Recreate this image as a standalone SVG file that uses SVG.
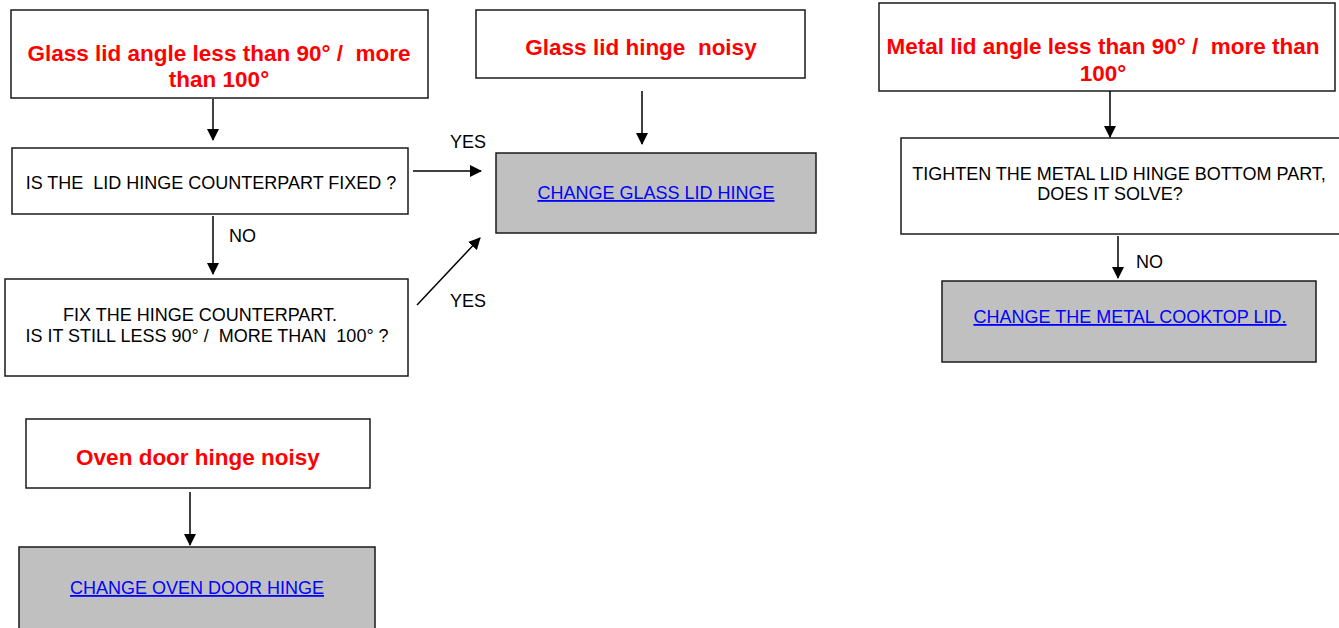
<svg xmlns="http://www.w3.org/2000/svg" width="1339" height="628" viewBox="0 0 1339 628" xml:space="preserve">
<style>
text{white-space:pre}
.box{fill:#fff;stroke:#1a1a1a;stroke-width:1.5}
.act{fill:#c0c0c0;stroke:#1a1a1a;stroke-width:1.5}
.h{font-family:"Liberation Sans",Arial,sans-serif;font-weight:bold;font-size:22.5px;fill:#ff0000;text-anchor:middle}
.t{font-family:"Liberation Sans",Arial,sans-serif;font-size:18px;fill:#000;text-anchor:middle}
.l{font-family:"Liberation Sans",Arial,sans-serif;font-size:18px;fill:#0000ff;text-anchor:middle;text-decoration:underline}
.lab{font-family:"Liberation Sans",Arial,sans-serif;font-size:18px;fill:#000}
.c{stroke:#000;stroke-width:1.5;fill:none;marker-end:url(#ah)}
</style>
<defs>
<marker id="ah" markerWidth="12" markerHeight="12" refX="11" refY="6" orient="auto" markerUnits="userSpaceOnUse">
<path d="M0,0 L12,6 L0,12 z" fill="#000"/>
</marker>
</defs>
<rect width="1339" height="628" fill="#fff"/>
<g id="n1"><rect class="box" x="11" y="10" width="417" height="88"/>
<text class="h" x="219" y="61">Glass lid angle less than 90° /  more</text>
<text class="h" x="219" y="87">than 100°</text></g>
<g id="n2"><rect class="box" x="12" y="148" width="396" height="66"/>
<text class="t" x="211" y="189">IS THE  LID HINGE COUNTERPART FIXED ?</text></g>
<g id="n3"><rect class="box" x="5" y="279" width="403" height="97"/>
<text class="t" x="200" y="321">FIX THE HINGE COUNTERPART.</text>
<text class="t" x="207" y="342">IS IT STILL LESS 90° /  MORE THAN  100° ?</text></g>
<g id="n4"><rect class="box" x="476" y="10" width="329" height="68"/>
<text class="h" x="641" y="55">Glass lid hinge  noisy</text></g>
<g id="n5"><rect class="act" x="496" y="153" width="320" height="80"/>
<text class="l" x="656" y="199">CHANGE GLASS LID HINGE</text></g>
<g id="n6"><rect class="box" x="879" y="3" width="456" height="88"/>
<text class="h" x="1103" y="54">Metal lid angle less than 90° /  more than</text>
<text class="h" x="1103" y="81">100°</text></g>
<g id="n7"><rect class="box" x="901" y="138" width="445" height="96"/>
<text class="t" x="1119" y="180">TIGHTEN THE METAL LID HINGE BOTTOM PART,</text>
<text class="t" x="1110" y="200">DOES IT SOLVE?</text></g>
<g id="n8"><rect class="act" x="942" y="281" width="374" height="81"/>
<text class="l" x="1130" y="323">CHANGE THE METAL COOKTOP LID.</text></g>
<g id="n9"><rect class="box" x="26" y="419" width="344" height="69"/>
<text class="h" x="198" y="465">Oven door hinge noisy</text></g>
<g id="n10"><rect class="act" x="19" y="547" width="356" height="84"/>
<text class="l" x="197" y="594">CHANGE OVEN DOOR HINGE</text></g>
<g id="connectors">
<line class="c" x1="213" y1="99" x2="213" y2="140"/>
<line class="c" x1="213" y1="216" x2="213" y2="274"/>
<line class="c" x1="413" y1="171" x2="481" y2="171"/>
<line class="c" x1="417" y1="305" x2="480" y2="238"/>
<line class="c" x1="642" y1="91" x2="642" y2="144"/>
<line class="c" x1="1110" y1="91" x2="1110" y2="137"/>
<line class="c" x1="1118" y1="236" x2="1118" y2="278"/>
<line class="c" x1="190" y1="492" x2="190" y2="545"/>
<text class="lab" x="450" y="148">YES</text>
<text class="lab" x="450" y="307">YES</text>
<text class="lab" x="229" y="242">NO</text>
<text class="lab" x="1136" y="268">NO</text>
</g>
</svg>
